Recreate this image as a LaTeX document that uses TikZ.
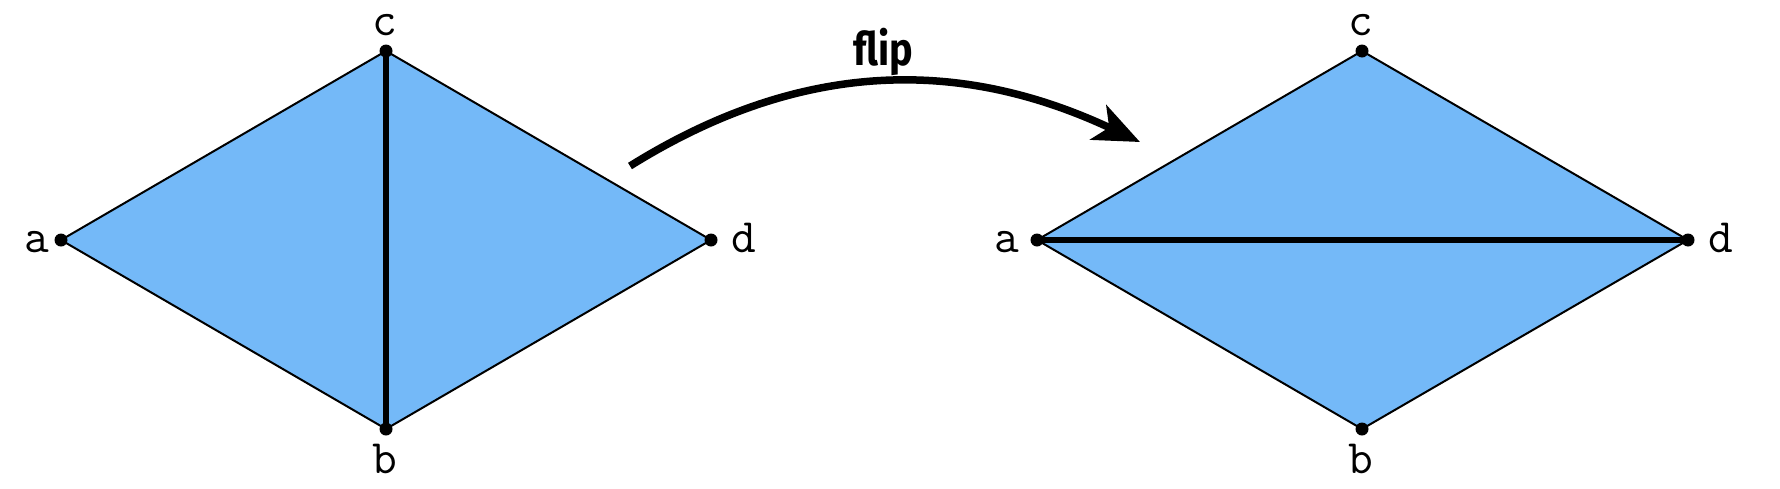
\documentclass[tikz,border=0pt]{standalone}
\usepackage{fontspec}
\newfontfamily\flipfont{Fira Sans}
\usetikzlibrary{arrows.meta}
\definecolor{facefill}{RGB}{116,185,248}
\begin{document}
\begin{tikzpicture}[x=1pt,y=-1pt,
  edge/.style={draw=black,line width=2pt,line join=round},
  diag/.style={draw=black,line width=6.5pt,line cap=round},
  vdot/.style={circle,fill=black,inner sep=0pt,minimum size=13pt},
  lbl/.style={anchor=base,inner sep=0pt,font=\ttfamily\fontsize{48}{48}\selectfont},
  flipar/.style={line width=7.5pt,-{Stealth[length=46pt,width=38pt,inset=12pt]}}]
\useasboundingbox (0,0) rectangle (1780,488);
% left diamond
\coordinate (La) at (61,240);
\coordinate (Lc) at (386,51);
\coordinate (Lb) at (386,429);
\coordinate (Ld) at (711,240);
\fill[facefill] (La) -- (Lc) -- (Ld) -- (Lb) -- cycle;
\draw[edge] (La) -- (Lc) -- (Ld) -- (Lb) -- cycle;
\draw[diag] (Lc) -- (Lb);
\foreach \p in {La,Lb,Lc,Ld} \node[vdot] at (\p) {};
\node[lbl] (la) at (37,252) {a};
\node[lbl] (lc) at (385,35) {c};
\node[lbl] (lb) at (385,473) {b};
\node[lbl] (ld) at (744,252) {d};
% right diamond
\coordinate (Ra) at (1037,240);
\coordinate (Rc) at (1362,51);
\coordinate (Rb) at (1362,429);
\coordinate (Rd) at (1688,240);
\fill[facefill] (Ra) -- (Rc) -- (Rd) -- (Rb) -- cycle;
\draw[edge] (Ra) -- (Rc) -- (Rd) -- (Rb) -- cycle;
\draw[diag] (Ra) -- (Rd);
\foreach \p in {Ra,Rb,Rc,Rd} \node[vdot] at (\p) {};
\node[lbl] (ra) at (1007,252) {a};
\node[lbl] (rc) at (1361,35) {c};
\node[lbl] (rb) at (1361,473) {b};
\node[lbl] (rd) at (1721,252) {d};
% flip arrow
\coordinate (fs) at (630,166);
\coordinate (fe) at (1140,142);
\draw[flipar] (fs) .. controls (800,60) and (959,57) .. (fe);
\node (flip) at (883,52) {\scalebox{0.86}[1]{\flipfont\bfseries\fontsize{46}{46}\selectfont flip}};
\end{tikzpicture}
\end{document}
